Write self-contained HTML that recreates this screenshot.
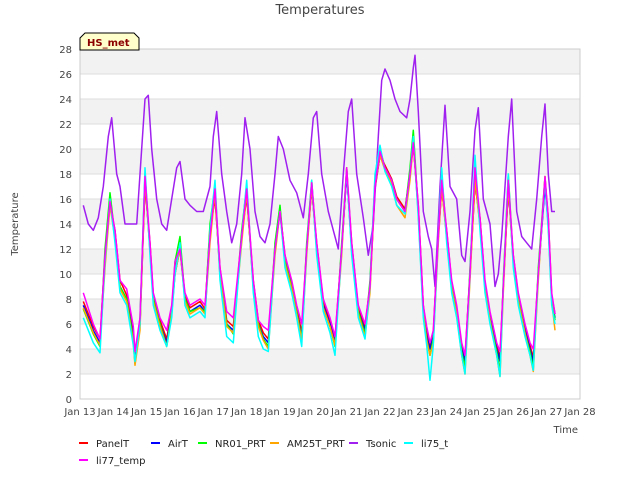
<!DOCTYPE html>
<html><head><meta charset="utf-8"><style>
body{margin:0;background:#fff;font-family:"Liberation Sans","DejaVu Sans",sans-serif}
svg text{font-family:"DejaVu Sans","Liberation Sans",sans-serif}
</style></head><body>
<svg id="c" width="640" height="480" xmlns="http://www.w3.org/2000/svg">
<rect width="640" height="480" fill="#fff"/>
<text x="320" y="14" text-anchor="middle" font-size="13" fill="#444">Temperatures</text>
<g id="bands"></g><g id="grid"></g><g id="yt"></g><g id="xt"></g><g id="series"></g>
<rect x="80" y="49" width="500" height="350" fill="none" stroke="#ccc"/>
<text x="18" y="224" transform="rotate(-90 18 224)" text-anchor="middle" font-size="10" fill="#444">Temperature</text>
<text x="578" y="433" text-anchor="end" font-size="10" fill="#444">Time</text>
<g>
<path d="M80,50 L80,38 L85,33 L134,33 L139,38 L139,50 Z" fill="#ffffcc" stroke="#000"/>
<text x="87" y="46" font-size="10" font-weight="bold" fill="#8b0000">HS_met</text></g>
<g id="legend"></g>
</svg>
<script>
const days=["Jan 13","Jan 14","Jan 15","Jan 16","Jan 17","Jan 18","Jan 19","Jan 20","Jan 21","Jan 22","Jan 23","Jan 24","Jan 25","Jan 26","Jan 27","Jan 28"];
const yTicks=[0,2,4,6,8,10,12,14,16,18,20,22,24,26,28];
const tA=[0.1,0.4,0.6,0.75,0.9,1.05,1.2,1.4,1.6,1.65,1.8,1.95,2.1,2.2,2.4,2.6,2.75,2.85,3.0,3.15,3.3,3.6,3.75,3.9,4.05,4.2,4.4,4.6,4.85,5.0,5.2,5.35,5.5,5.65,5.85,6.0,6.15,6.35,6.5,6.65,6.8,6.95,7.1,7.3,7.5,7.65,7.85,8.0,8.15,8.35,8.55,8.7,8.85,9.0,9.15,9.35,9.5,9.75,9.9,10.0,10.15,10.3,10.4,10.5,10.6,10.75,10.85,11.0,11.15,11.3,11.45,11.55,11.7,11.85,12.0,12.15,12.3,12.5,12.6,12.7,12.85,13.0,13.15,13.35,13.5,13.6,13.75,13.95,14.05,14.15,14.25];
const airT=[7.5,5.5,4.5,11,16,13,9,8,5,3,6,17.5,12,8,6,4.5,7,10,12,8,7,7.5,7,13,16.5,10,6,5.5,13,16.5,9,6,5,4.5,12,15,11,9,7,5,12,17,12,7.5,6,4.5,12,18,12,7,5.5,9,17,19.5,18.5,17.5,16,15,18,20.5,15,7,5,4,5,13,17,13,9,7,4,3,10,17.5,14,9,6.5,4,3,9,17,11,8,5.5,4,3,10,17,14,8,6.5];
const panelT=[7.8,5.8,4.8,11.5,15.5,13.5,9.5,8.3,5.5,3.3,6,17,12.5,8.3,6.3,4.8,7.2,10.5,12,8.3,7.3,7.8,7.2,13.5,16,10.5,6.3,5.8,13,16.2,9.5,6.3,5.3,4.8,12,15,11.5,9.3,7.3,5.3,12,16.8,12.5,7.8,6.3,4.8,12,18,12.5,7.3,5.8,9,16.8,19.5,18.7,17.6,16.2,15.2,18,20.3,15.5,7.5,5.3,4.3,5.3,13,16.8,13.5,9.3,7.3,4.3,3.3,10,17.2,14.5,9.3,6.8,4.3,3.3,9,16.8,11.5,8.3,5.8,4.3,3.3,10,17.5,14.5,8.3,6.8];
const nr01=[7.2,5.2,4.2,12,16.5,13,9,8,4.8,2.8,6.5,18,12,8,6,4.2,7,11,13,8,7,7.3,7,14,17,10,6,5.2,13.5,17,9,6,4.8,4.2,12.5,15.5,11,9,7,4.8,12.5,17.5,12,7.3,5.8,4.2,12.5,18.5,12,7,5.2,9.5,17.5,20,18.5,17.5,16,15,18.5,21.5,15,7,4.8,3.5,4.8,13.5,18,13,9,7,3.8,2.5,10.5,18.5,14,9,6.3,3.8,2.2,9.5,18,11,8,5.3,3.8,2.5,10.5,17.8,14,8,6.3];
const am25t=[7.3,5.3,4.3,10.5,15.5,12.8,8.8,7.8,4.5,2.7,5.5,17.5,11.8,7.8,5.8,4.2,6.8,10,12,7.8,6.8,7.3,6.8,12.5,16.5,9.8,5.8,5.3,12.5,16.5,8.8,5.8,4.7,4,11.5,15,10.8,8.8,6.8,4.7,11.5,17,11.8,7.3,5.8,4.3,11.5,18.5,11.8,6.8,5,8.5,17,19.5,18.3,17.3,15.5,14.5,17.5,20.5,14.8,6.8,4.7,3.5,4.5,12.5,17,12.8,8.8,6.8,3.5,2,9.5,17.5,13.8,8.8,6.3,3.5,1.8,8.5,17,10.8,7.8,5.3,3.5,2.2,9.5,17.8,13.8,7.8,5.5];
const li75=[6.5,4.5,3.7,11,16,12.5,8.5,7.5,4.3,3,6,18.5,11.5,7.5,5.5,4.2,6.5,10,12.5,7.5,6.5,7,6.5,13.5,17.5,9.5,5,4.5,13,17.5,8.5,5,4,3.8,12,15,10.5,8.5,6.5,4.2,12,17.5,11.5,7,5.3,3.5,12,18.3,11.5,6.5,4.8,9,18,20.3,18.2,17,15.5,14.8,18,21,14.5,6.5,4.3,1.5,4.3,13,18.5,12.5,8.5,6.5,3.5,2,10,19.5,13.5,8.5,6,3.5,1.8,9,18,10.5,7.5,5,3.5,2.3,10,17.5,13.5,7.5,6];
const li77=[8.5,6,4.8,11.5,15.8,13.5,9.5,8.8,5.8,3.8,6.5,17.8,12.5,8.5,6.5,5.5,7.5,11,12,8.5,7.5,8,7.5,13,16.8,10.5,7,6.5,13,16.8,9.5,6.3,5.8,5.5,12,15,11.5,9.5,7.5,6,12,17.3,12.5,8,6.5,5,12,18.5,12.5,7.5,6,9,17,19.8,18.5,17.5,16,15,18,20.5,15.5,7.5,5.8,4.5,5.5,13,17.5,13.5,9.5,7.5,4.5,3.5,10,18.5,14.5,9.5,7,4.5,3.8,9,17.5,11.5,8.5,6,4.5,4,10,17.8,14.5,8.5,6.8];
const tS=[0.1,0.25,0.4,0.55,0.7,0.85,0.95,1.1,1.2,1.35,1.55,1.7,1.8,1.95,2.05,2.15,2.3,2.45,2.6,2.75,2.9,3.0,3.15,3.3,3.5,3.7,3.9,4.0,4.1,4.25,4.4,4.55,4.7,4.85,4.95,5.1,5.25,5.4,5.55,5.7,5.85,5.95,6.1,6.3,6.5,6.7,6.85,7.0,7.1,7.25,7.45,7.6,7.75,7.9,8.05,8.15,8.3,8.5,8.65,8.8,8.95,9.05,9.15,9.3,9.45,9.6,9.8,9.9,10.0,10.05,10.15,10.3,10.45,10.55,10.65,10.8,10.95,11.1,11.3,11.45,11.55,11.7,11.85,11.95,12.1,12.3,12.45,12.55,12.65,12.85,12.95,13.1,13.25,13.4,13.55,13.7,13.85,13.95,14.05,14.15,14.25];
const tsonic=[15.5,14,13.5,14.5,17,21,22.5,18,17,14,14,14,18,24,24.3,20,16,14,13.5,16,18.5,19,16,15.5,15,15,17,21,23,18,15,12.5,14,18,22.5,20,15,13,12.5,14,18,21,20,17.5,16.5,14.5,18,22.5,23,18,15,13.5,12,18,23,24,18,14.5,11.5,14,21,25.5,26.4,25.5,24,23,22.5,24,26.5,27.5,23,15,13,12,9,17,23.5,17,16,11.5,11,15,21.5,23.3,16,14,9,10,13,21,24,15,13,12.5,12,16,21,23.6,18,15,15];
const NS="http://www.w3.org/2000/svg";
const X=d=>80+d*500/15, Y=v=>399-v*350/28;
function mk(tag,attrs,parent){const e=document.createElementNS(NS,tag);for(const k in attrs)e.setAttribute(k,attrs[k]);parent.appendChild(e);return e;}
const bands=document.getElementById('bands'),grid=document.getElementById('grid'),yt=document.getElementById('yt'),xt=document.getElementById('xt');
for(let v=26;v>=0;v-=4){const r=mk('rect',{x:80,y:Y(v+2),width:500,height:Y(v)-Y(v+2),fill:'#f2f2f2'},bands);

}
yTicks.forEach(v=>{const l=mk('line',{x1:80,x2:580,y1:Y(v),y2:Y(v),stroke:'#ddd'},grid);


const t=mk('text',{x:72,y:Y(v)+4,'text-anchor':'end','font-size':10,fill:'#444'},yt);t.textContent=v;

});
days.forEach((d,i)=>{const t=mk('text',{x:X(i),y:415,'text-anchor':'middle','font-size':10,fill:'#444'},xt);t.textContent=d;

});
const series=[["PanelT",tA,panelT,"#ff0000"],["AirT",tA,airT,"#0000ff"],["NR01_PRT",tA,nr01,"#00ff00"],["AM25T_PRT",tA,am25t,"#ffa500"],["Tsonic",tS,tsonic,"#a020f0"],["li75_t",tA,li75,"#00ffff"],["li77_temp",tA,li77,"#ff00ff"]];
const sg=document.getElementById('series');
series.forEach(s=>{const p=mk('polyline',{points:s[1].map((t,i)=>X(t).toFixed(1)+','+Y(s[2][i]).toFixed(1)).join(' '),fill:'none',stroke:s[3],'stroke-width':1.5,'stroke-linejoin':'round'},sg);

});
const lg=document.getElementById('legend');
const lpos=[[79,443],[151,443],[198,443],[270,443],[349,443],[404,443],[79,460]];
series.forEach((s,i)=>{const [x,y]=lpos[i];const g=mk('g',{},lg);


mk('line',{x1:x,x2:x+9,y1:y,y2:y,stroke:s[3],'stroke-width':2},g);
const t=mk('text',{x:x+17,y:y+4,'font-size':10,fill:'#222'},g);t.textContent=s[0];});
</script>
</body></html>
